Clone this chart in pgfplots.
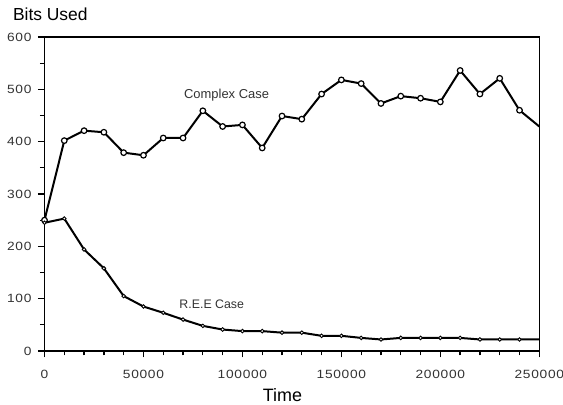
\documentclass[border=0pt]{standalone}
\usepackage{fontspec}
\setmainfont{Liberation Sans}
\newfontfamily\tickfont[FakeStretch=1.15,LetterSpace=6]{Liberation Sans}
\usepackage{pgfplots}
\pgfplotsset{compat=1.18}
\begin{document}
\begin{tikzpicture}
\begin{axis}[
  scale only axis, width=494.8bp, height=314bp,
  xmin=0, xmax=250000, ymin=0, ymax=600,
  xtick={0,50000,...,250000}, ytick={0,100,...,600},
  minor x tick num=4, minor y tick num=1,
  tick pos=left, tick align=outside,
  major tick length=6.5bp, minor tick length=4.5bp,
  every tick/.style={black, line width=1.3bp},
  axis line style={line width=1.3bp},
  scaled ticks=false,
  /pgf/number format/fixed,
  /pgf/number format/precision=0,
  /pgf/number format/assume math mode=true,
  /pgf/number format/set thousands separator={},
  tick label style={font=\tickfont\fontsize{12}{14}\selectfont, text=black!80},
  x tick label style={yshift=-9bp},
  y tick label style={xshift=-3bp},
  xlabel={Time}, ylabel={Bits Used},
  xlabel style={font=\fontsize{18}{20}\selectfont, at={(rel axis cs:0.481,0)}, anchor=base, yshift=-50.5bp},
  ylabel style={font=\fontsize{17.5}{20}\selectfont, rotate=-90, at={(rel axis cs:0,1)}, anchor=base west, xshift=-35bp, yshift=16bp},
  clip=false,
]
\addplot[black, line width=2bp, mark=*, mark size=2.8bp, mark indices={1,...,25},
  mark options={fill=white, line width=1.2bp}] coordinates {
  (0,250) (10000,402) (20000,421) (30000,418) (40000,379) (50000,374)
  (60000,407) (70000,407) (80000,459) (90000,429) (100000,432) (110000,388)
  (120000,449) (130000,443) (140000,491) (150000,518) (160000,511) (170000,473)
  (180000,487) (190000,483) (200000,476) (210000,536) (220000,491) (230000,521)
  (240000,460) (250000,429)};
\addplot[black, line width=2bp, mark=*, mark size=1.8bp, mark indices={1,...,25},
  mark options={fill=white, line width=0.9bp}] coordinates {
  (0,245) (10000,253) (20000,194) (30000,158) (40000,105) (50000,85)
  (60000,73) (70000,60) (80000,48) (90000,41) (100000,38) (110000,38)
  (120000,35) (130000,35) (140000,29) (150000,29) (160000,25) (170000,22)
  (180000,25) (190000,25) (200000,25) (210000,25) (220000,22) (230000,22)
  (240000,22) (250000,22)};
\node[font=\fontsize{13}{15}\selectfont, text=black!80] at (axis cs:92000,489) {Complex Case};
\node[font=\fontsize{12.4}{14}\selectfont, text=black!80] at (axis cs:84500,90) {R.E.E Case};
\path (rel axis cs:0,0) ++(-44.5bp,-54bp) coordinate (bbsw);
\path (rel axis cs:1,1) ++(23.7bp,37bp) coordinate (bbne);
\end{axis}
\pgfresetboundingbox
\path[use as bounding box] (bbsw) rectangle (bbne);
\end{tikzpicture}
\end{document}
